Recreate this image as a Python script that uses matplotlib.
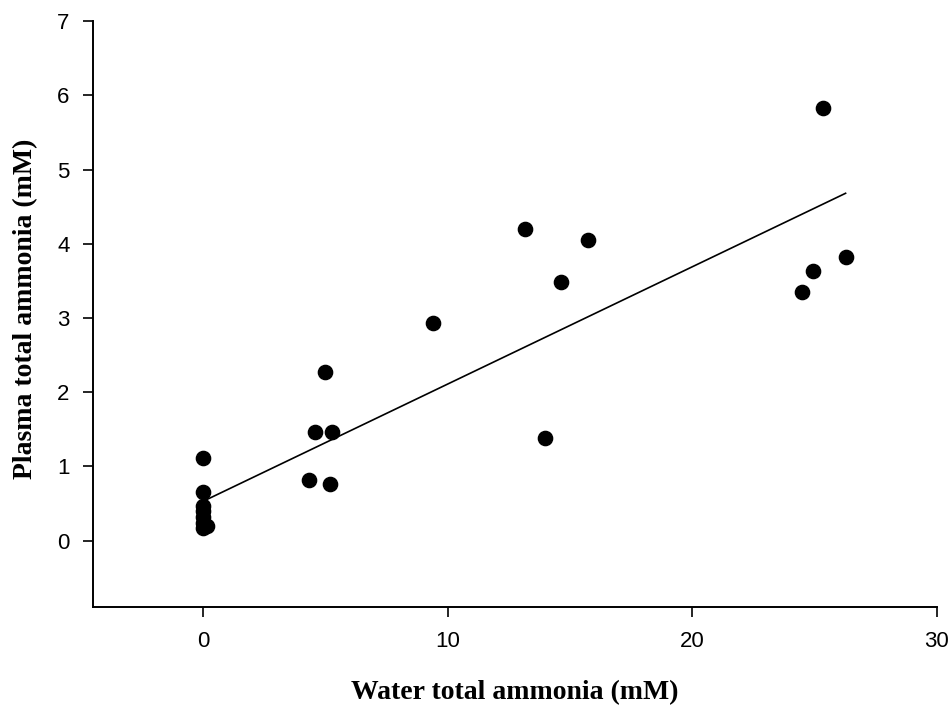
import numpy as np
import matplotlib
matplotlib.use("Agg")
import matplotlib.pyplot as plt

# water total ammonia (mM) vs plasma total ammonia (mM)
water = [0, 0, 0, 0, 0, 0, 0, 0.15,
         4.32, 4.55, 4.96, 5.18, 5.25,
         9.39, 13.17, 13.96, 14.63, 15.75,
         24.48, 24.94, 25.34, 26.27]
plasma = [1.11, 0.65, 0.47, 0.40, 0.32, 0.24, 0.17, 0.20,
          0.82, 1.46, 2.27, 0.76, 1.46,
          2.93, 4.20, 1.38, 3.48, 4.05,
          3.35, 3.63, 5.83, 3.82]

# regression line
intercept = 0.53
slope = 0.158

fig = plt.figure(figsize=(9.52, 7.07), dpi=100)
ax = fig.add_axes([0.098, 0.141, 0.886, 0.829])

ax.scatter(water, plasma, s=105, color="black", zorder=3)
xl = np.array([min(water), max(water)])
ax.plot(xl, intercept + slope * xl, color="black", lw=1.2, zorder=2)

ax.set_xlim(-4.5, 30)
ax.set_ylim(-0.9, 7)
ax.set_xticks([0, 10, 20, 30])
ax.set_yticks(range(0, 8))

for s in ["top", "right"]:
    ax.spines[s].set_visible(False)
for s in ["left", "bottom"]:
    ax.spines[s].set_linewidth(1.4)

ax.tick_params(direction="out", length=7, width=1.2, pad=10,
               labelsize=16)
for lab in ax.get_xticklabels() + ax.get_yticklabels():
    lab.set_fontfamily("Liberation Sans")

ax.set_xlabel("Water total ammonia (mM)", fontfamily="Liberation Serif",
              fontweight="bold", fontsize=20, labelpad=20)
ax.set_ylabel("Plasma total ammonia (mM)", fontfamily="Liberation Serif",
              fontweight="bold", fontsize=20)
ax.yaxis.set_label_coords(-0.066, 0.51)

fig.savefig("out.png", dpi=100)
